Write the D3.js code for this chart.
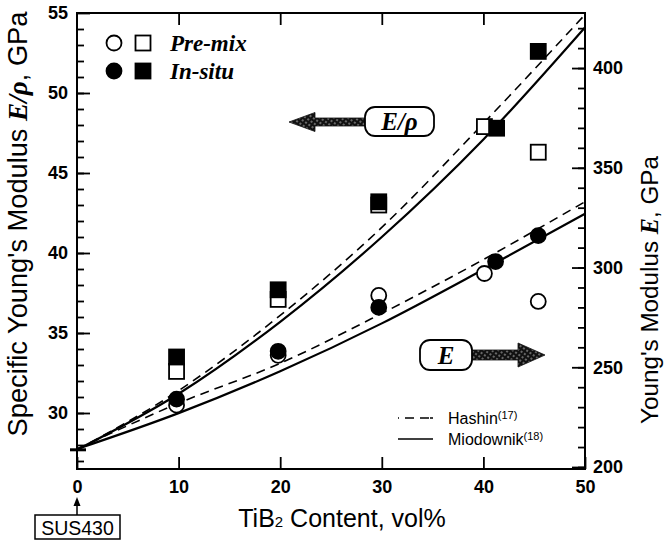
<!DOCTYPE html>
<html>
<head>
<meta charset="utf-8">
<script src="https://cdn.jsdelivr.net/npm/d3@7.9.0/dist/d3.min.js"></script>
<style>
  body { margin: 0; background: #fff; }
  svg { display: block; }
  .tick text { font-family: "Liberation Sans", Arial, sans-serif; font-weight: bold; font-size: 18px; fill: #000; }
</style>
</head>
<body>
<svg id="chart" width="667" height="540"></svg>
<script>
// TiB2 content (vol%) and measured values
const sqPreX = [9.8, 19.8, 29.7, 40.1, 45.4];
const sqPre  = [32.6, 37.1, 43.0, 47.9, 46.3];   // E/rho, pre-mix
const sqInX  = [9.8, 19.8, 29.7, 41.3, 45.4];
const sqIn   = [33.5, 37.7, 43.2, 47.8, 52.6];   // E/rho, in-situ
const ciPreX = [9.8, 19.8, 29.7, 40.1, 45.4];
const ciPre  = [231, 256, 286, 297, 283];        // E, pre-mix
const ciInX  = [9.8, 19.8, 29.7, 41.2, 45.4];
const ciIn   = [234, 258, 280, 303, 316];        // E, in-situ

// model curves
const curveX   = [0, 10, 20, 30, 40, 50];
const hashinEr = [27.7, 31.4, 36.1, 41.6, 48.1, 54.9];
const miodEr   = [27.7, 31.2, 35.7, 41.0, 47.1, 54.1];
const hashinE  = [209, 232, 252, 277, 304, 333];
const miodE    = [209, 227, 248, 272, 299, 327];

const xTicks  = [0, 10, 20, 30, 40, 50];
const yLTicks = [30, 35, 40, 45, 50, 55];
const yRTicks = [200, 250, 300, 350, 400];

const L = 77, R = 585, T = 13, B = 469;
const x  = d3.scaleLinear().domain([0, 50]).range([L, R]);
const yL = d3.scaleLinear().domain([26.5, 55]).range([B, T]);
const yR = d3.scaleLinear().domain([199, 427.6]).range([B, T]);

const svg = d3.select('#chart');
const sans = '"Liberation Sans", Arial, sans-serif';
const serif = '"Liberation Serif", "Times New Roman", serif';

// stipple pattern for the arrows
const defs = svg.append('defs');
const pat = defs.append('pattern').attr('id', 'stip').attr('width', 4).attr('height', 4)
  .attr('patternUnits', 'userSpaceOnUse').attr('patternTransform', 'rotate(35)');
pat.append('rect').attr('width', 4).attr('height', 4).attr('fill', '#111');
pat.append('circle').attr('cx', 1).attr('cy', 1).attr('r', 0.7).attr('fill', '#fff');

// axes: minor then major ticks, all pointing inward
function styleAxis(g) {
  g.select('.domain').remove();
  g.selectAll('.tick line').attr('stroke', '#000').attr('stroke-width', 1.8);
}
svg.append('g').attr('transform', `translate(${L},0)`)
  .call(d3.axisLeft(yL).tickValues(d3.range(27, 55, 1)).tickSize(-7).tickFormat('')).call(styleAxis);
svg.append('g').attr('transform', `translate(${L},0)`)
  .call(d3.axisLeft(yL).tickValues(yLTicks).tickSize(-13).tickPadding(9).tickFormat(d3.format('d'))).call(styleAxis);
svg.append('g').attr('transform', `translate(${R},0)`)
  .call(d3.axisRight(yR).tickValues(d3.range(200, 428, 10)).tickSize(-7).tickFormat('')).call(styleAxis);
svg.append('g').attr('transform', `translate(${R},0)`)
  .call(d3.axisRight(yR).tickValues(yRTicks).tickSize(-13).tickPadding(8).tickFormat(d3.format('d'))).call(styleAxis);
svg.append('g').attr('transform', `translate(0,${B})`)
  .call(d3.axisBottom(x).tickValues(xTicks).tickSize(-12).tickPadding(11).tickFormat(d3.format('d'))).call(styleAxis);
svg.append('g').attr('transform', `translate(0,${T})`)
  .call(d3.axisTop(x).tickValues(xTicks.slice(1, -1)).tickSize(-12).tickFormat('')).call(styleAxis);

svg.append('rect').attr('x', L).attr('y', T).attr('width', R - L).attr('height', B - T)
  .attr('fill', 'none').attr('stroke', '#000').attr('stroke-width', 2);

// curves
function drawCurve(vals, yScale, dashed) {
  const line = d3.line().x((d, i) => x(curveX[i])).y(d => yScale(d)).curve(d3.curveMonotoneX);
  svg.append('path').attr('d', line(vals)).attr('fill', 'none').attr('stroke', '#000')
    .attr('stroke-width', dashed ? 1.6 : 2.2)
    .attr('stroke-dasharray', dashed ? '9,6' : null);
}
drawCurve(hashinEr, yL, true);
drawCurve(miodEr, yL, false);
drawCurve(hashinE, yR, true);
drawCurve(miodE, yR, false);

// SUS430 start point
svg.append('line').attr('x1', L - 7).attr('x2', L + 9).attr('y1', yL(27.7)).attr('y2', yL(27.7))
  .attr('stroke', '#000').attr('stroke-width', 3);

// markers
const S = 15, CR = 7.5, SW = 1.8;
function squares(xs, vs, filled) {
  svg.append('g').selectAll('rect').data(vs).join('rect')
    .attr('x', (d, i) => x(xs[i]) - S / 2).attr('y', d => yL(d) - S / 2)
    .attr('width', S).attr('height', S)
    .attr('fill', filled ? '#000' : '#fff').attr('stroke', '#000').attr('stroke-width', SW);
}
function circles(xs, vs, filled) {
  svg.append('g').selectAll('circle').data(vs).join('circle')
    .attr('cx', (d, i) => x(xs[i])).attr('cy', d => yR(d)).attr('r', CR)
    .attr('fill', filled ? '#000' : '#fff').attr('stroke', '#000').attr('stroke-width', SW);
}
circles(ciPreX, ciPre, false);
circles(ciInX, ciIn, true);
squares(sqPreX, sqPre, false);
squares(sqInX, sqIn, true);

// top-left legend
const leg = [{ t: 'Pre-mix', f: false, y: 43 }, { t: 'In-situ', f: true, y: 71 }];
leg.forEach(d => {
  svg.append('circle').attr('cx', 114).attr('cy', d.y).attr('r', CR)
    .attr('fill', d.f ? '#000' : '#fff').attr('stroke', '#000').attr('stroke-width', SW);
  svg.append('rect').attr('x', 143 - S / 2).attr('y', d.y - S / 2).attr('width', S).attr('height', S)
    .attr('fill', d.f ? '#000' : '#fff').attr('stroke', '#000').attr('stroke-width', SW);
  svg.append('text').attr('x', 170).attr('y', d.y + 8).text(d.t)
    .attr('font-family', serif).attr('font-style', 'italic').attr('font-weight', 'bold').attr('font-size', 23);
});

// arrows with labelled boxes
function arrow(tipX, baseX, cy, dir, headLen, headH, shaftH) {
  const p = d3.path();
  p.moveTo(tipX, cy);
  p.lineTo(tipX + dir * headLen, cy - headH / 2);
  p.lineTo(tipX + dir * headLen, cy - shaftH / 2);
  p.lineTo(baseX, cy - shaftH / 2);
  p.lineTo(baseX, cy + shaftH / 2);
  p.lineTo(tipX + dir * headLen, cy + shaftH / 2);
  p.lineTo(tipX + dir * headLen, cy + headH / 2);
  p.closePath();
  svg.append('path').attr('d', p.toString()).attr('fill', 'url(#stip)').attr('stroke', '#111').attr('stroke-width', 0.8);
}
arrow(289, 366, 122, 1, 26, 19, 8);
svg.append('rect').attr('x', 365).attr('y', 107).attr('width', 69).attr('height', 29).attr('rx', 10)
  .attr('fill', '#fff').attr('stroke', '#000').attr('stroke-width', 1.8);
svg.append('text').attr('x', 399.5).attr('y', 130).attr('text-anchor', 'middle')
  .attr('font-family', serif).attr('font-style', 'italic').attr('font-weight', 'bold').attr('font-size', 25)
  .text('E/ρ');

arrow(545, 471, 355, -1, 27, 24, 10);
svg.append('rect').attr('x', 420).attr('y', 340).attr('width', 52).attr('height', 30).attr('rx', 10)
  .attr('fill', '#fff').attr('stroke', '#000').attr('stroke-width', 1.8);
svg.append('text').attr('x', 446).attr('y', 364).attr('text-anchor', 'middle')
  .attr('font-family', serif).attr('font-style', 'italic').attr('font-weight', 'bold').attr('font-size', 25)
  .text('E');

// model legend
svg.append('line').attr('x1', 398).attr('x2', 433).attr('y1', 418).attr('y2', 418)
  .attr('stroke', '#000').attr('stroke-width', 1.4).attr('stroke-dasharray', '1,6,9,6,9');
svg.append('line').attr('x1', 398).attr('x2', 433).attr('y1', 439).attr('y2', 439)
  .attr('stroke', '#000').attr('stroke-width', 1.4);
[['Hashin', '(17)', 424], ['Miodownik', '(18)', 445]].forEach(([a, b, y]) => {
  const t = svg.append('text').attr('x', 448).attr('y', y).attr('font-family', sans).attr('font-size', 16);
  t.append('tspan').text(a);
  t.append('tspan').attr('font-size', 11).attr('dy', -5).text(b);
});

// axis titles, font size fitted to the length seen in the figure
function fitText(t, base, target) {
  const len = t.node().getComputedTextLength();
  t.attr('font-size', base * target / len);
}
svg.append('text').attr('transform', 'translate(27,224) rotate(-90)').attr('text-anchor', 'middle')
  .attr('font-family', sans).attr('font-size', 24)
  .call(t => {
    t.append('tspan').text('Specific Young\'s Modulus ');
    t.append('tspan').attr('font-family', serif).attr('font-style', 'italic').attr('font-weight', 'bold').text('E/ρ');
    t.append('tspan').text(', GPa');
  })
  .call(fitText, 24, 425);
svg.append('text').attr('transform', 'translate(658,290) rotate(-90)').attr('text-anchor', 'middle')
  .attr('font-family', sans).attr('font-size', 24)
  .call(t => {
    t.append('tspan').text('Young\'s Modulus ');
    t.append('tspan').attr('font-family', serif).attr('font-style', 'italic').attr('font-weight', 'bold').text('E');
    t.append('tspan').text(', GPa');
  })
  .call(fitText, 24, 268);
svg.append('text').attr('x', 342).attr('y', 527).attr('text-anchor', 'middle')
  .attr('font-family', sans).attr('font-size', 25)
  .call(t => {
    t.append('tspan').text('TiB');
    t.append('tspan').attr('font-size', 15).text('2');
    t.append('tspan').text(' Content, vol%');
  });

// SUS430 marker
svg.append('line').attr('x1', L).attr('x2', L).attr('y1', 515).attr('y2', 503)
  .attr('stroke', '#000').attr('stroke-width', 1.5);
svg.append('path').attr('d', `M${L},497 L${L - 3.5},506 L${L + 3.5},506 Z`).attr('fill', '#000');
svg.append('rect').attr('x', 35).attr('y', 515).attr('width', 85).attr('height', 24)
  .attr('fill', '#fff').attr('stroke', '#000').attr('stroke-width', 1.5);
svg.append('text').attr('x', 77.5).attr('y', 535).attr('text-anchor', 'middle')
  .attr('font-family', sans).attr('font-size', 19.5).text('SUS430');
</script>
</body>
</html>
